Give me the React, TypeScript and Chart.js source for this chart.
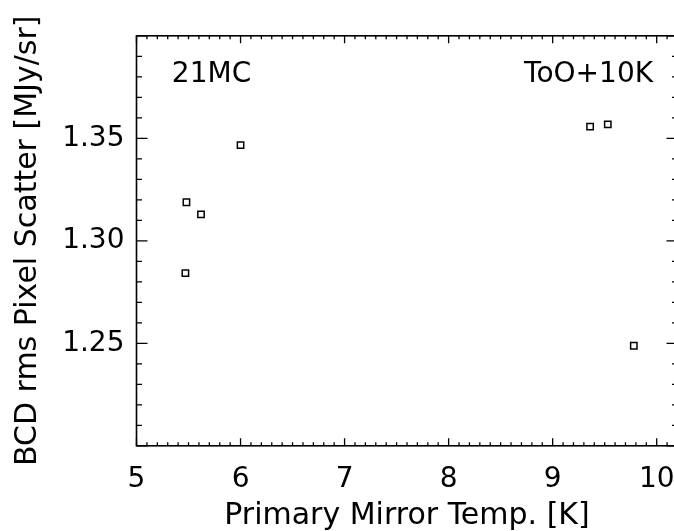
import React, { useEffect, useRef } from "react";
import { Chart, registerables } from "chart.js";

Chart.register(...registerables);

// Data
const tempX = [5.48, 5.62, 6.0, 5.47, 9.36, 9.53, 9.78];
const scatterY = [1.3188, 1.3129, 1.3467, 1.2842, 1.3557, 1.3568, 1.2488];

const xTickValues = [5, 6, 7, 8, 9, 10];
const yTickValues = [1.25, 1.3, 1.35];
const xRange = [5, 10.2];
const yRange = [1.2, 1.4];

const annotations = [
  { text: "21MC", x: 5.34, y: 1.381, align: "left" },
  { text: "ToO+10K", x: 9.965, y: 1.381, align: "right" },
];

const xTitle = "Primary Mirror Temp. [K]";
const yTitle = "BCD rms Pixel Scatter [MJy/sr]";

const FONT = "'DejaVu Sans', sans-serif";

const idlAxesPlugin = {
  id: "idlAxes",
  afterDatasetsDraw(chart: any) {
    const { ctx, chartArea } = chart;
    const xs = chart.scales.x;
    const ys = chart.scales.y;
    const { left, right, top, bottom } = chartArea;
    ctx.save();
    ctx.strokeStyle = "#000";
    ctx.lineWidth = 1.6;
    ctx.strokeRect(left, top, right - left, bottom - top);
    ctx.lineWidth = 1.3;
    ctx.beginPath();
    for (let i = Math.round(xRange[0] * 10); i <= Math.round(xRange[1] * 10); i++) {
      const v = i / 10;
      const px = xs.getPixelForValue(v);
      const len = i % 10 === 0 ? 7.5 : 3.5;
      ctx.moveTo(px, bottom);
      ctx.lineTo(px, bottom - len);
      ctx.moveTo(px, top);
      ctx.lineTo(px, top + len);
    }
    for (let i = Math.round(yRange[0] * 100); i <= Math.round(yRange[1] * 100); i++) {
      const v = i / 100;
      const py = ys.getPixelForValue(v);
      const len = i % 5 === 0 ? 11 : 5.5;
      ctx.moveTo(left, py);
      ctx.lineTo(left + len, py);
      ctx.moveTo(right, py);
      ctx.lineTo(right - len, py);
    }
    ctx.stroke();
    ctx.fillStyle = "#000";
    ctx.font = `28px ${FONT}`;
    ctx.textBaseline = "middle";
    for (const a of annotations) {
      ctx.textAlign = a.align as CanvasTextAlign;
      ctx.fillText(a.text, xs.getPixelForValue(a.x), ys.getPixelForValue(a.y));
    }
    ctx.restore();
  },
};

export default function App() {
  const ref = useRef<HTMLCanvasElement>(null);
  useEffect(() => {
    if (!ref.current) return;
    const chart = new Chart(ref.current, {
      type: "scatter",
      data: {
        datasets: [
          {
            data: tempX.map((x, i) => ({ x, y: scatterY[i] })),
            pointStyle: "rect",
            pointRadius: 4.5,
            pointBorderWidth: 1.5,
            borderColor: "#000",
            backgroundColor: "rgba(0,0,0,0)",
            showLine: false,
          },
        ],
      },
      options: {
        responsive: false,
        animation: false,
        layout: { padding: { top: 35.8, right: 22.5, left: 0, bottom: 0 } },
        plugins: { legend: { display: false }, tooltip: { enabled: false } },
        scales: {
          x: {
            type: "linear",
            min: xRange[0],
            max: xRange[1],
            grid: { display: false, drawTicks: false },
            border: { display: false },
            afterBuildTicks: (s: any) => {
              s.ticks = xTickValues.map((v) => ({ value: v }));
            },
            afterFit: (s: any) => {
              s.height = 85.2;
            },
            ticks: {
              color: "#000",
              font: { family: FONT, size: 28, lineHeight: 1 },
              padding: 20,
              maxRotation: 0,
              autoSkip: false,
              callback: (v: any) => String(v),
            },
            title: {
              display: true,
              text: xTitle,
              color: "#000",
              font: { family: FONT, size: 30, lineHeight: 1 },
              padding: { top: 0, bottom: 0 },
            },
          },
          y: {
            type: "linear",
            min: yRange[0],
            max: yRange[1],
            grid: { display: false, drawTicks: false },
            border: { display: false },
            afterBuildTicks: (s: any) => {
              s.ticks = yTickValues.map((v) => ({ value: v }));
            },
            afterFit: (s: any) => {
              s.width = 136.5;
            },
            ticks: {
              color: "#000",
              font: { family: FONT, size: 28, lineHeight: 1 },
              padding: 12,
              autoSkip: false,
              callback: (v: any) => Number(v).toFixed(2),
            },
            title: {
              display: true,
              text: yTitle,
              color: "#000",
              font: { family: FONT, size: 30, lineHeight: 1 },
              padding: { top: 13, bottom: 0 },
            },
          },
        },
      },
      plugins: [idlAxesPlugin],
    });
    return () => chart.destroy();
  }, []);
  return (
    <div
      style={{
        position: "absolute",
        left: 0,
        top: 0,
        width: 674,
        height: 531,
        overflow: "hidden",
        background: "#fff",
      }}
    >
      <canvas ref={ref} width={700} height={531} style={{ display: "block" }} />
    </div>
  );
}
